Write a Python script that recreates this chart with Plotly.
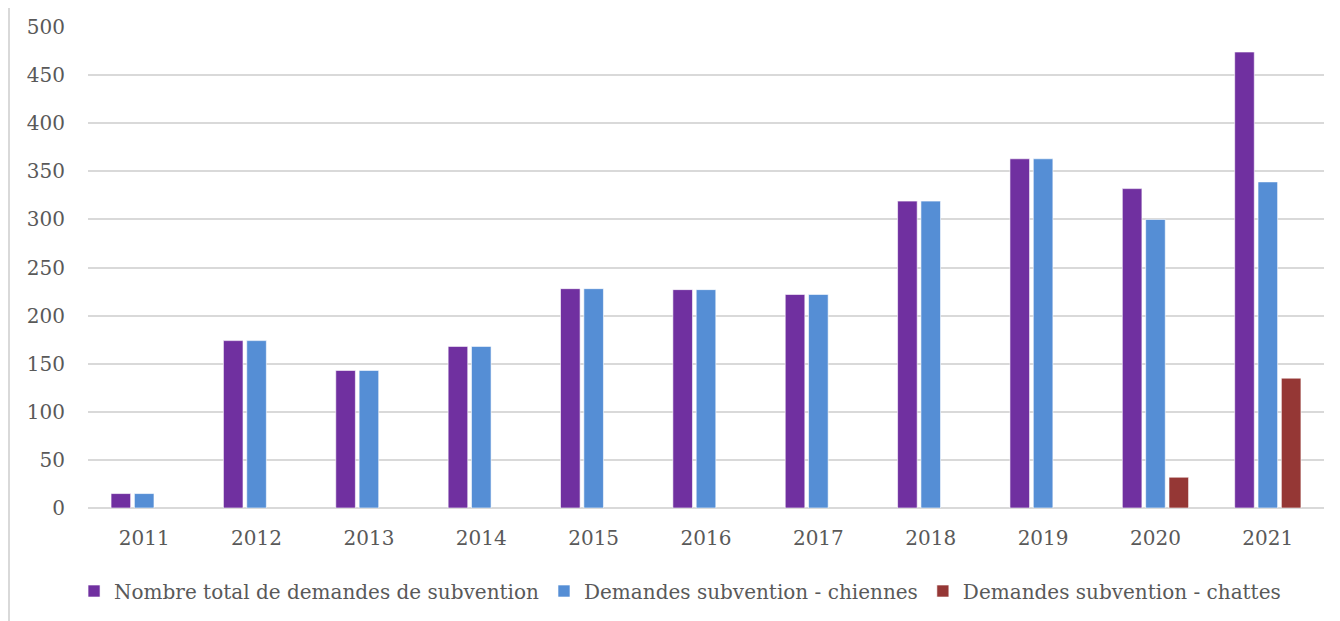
import plotly.graph_objects as go

years = ["2011", "2012", "2013", "2014", "2015", "2016", "2017", "2018", "2019", "2020", "2021"]
total = [15, 174, 143, 168, 228, 227, 222, 319, 363, 332, 474]
chiennes = [15, 174, 143, 168, 228, 227, 222, 319, 363, 300, 339]
chattes = [None, None, None, None, None, None, None, None, None, 32, 135]

series = [
    ("Nombre total de demandes de subvention", total, "#7030a0"),
    ("Demandes subvention - chiennes", chiennes, "#558ed5"),
    ("Demandes subvention - chattes", chattes, "#953735"),
]

font_family = "DejaVu Serif"
grey = "#595959"

fig = go.Figure()
for name, values, color in series:
    fig.add_trace(
        go.Bar(
            name=name,
            x=years,
            y=values,
            marker=dict(color=color, line=dict(color="rgba(255,255,255,0.6)", width=1)),
        )
    )

# page body has an 8px margin, so the figure is sized to the remaining window
fig.update_layout(
    width=1332,
    height=613,
    paper_bgcolor="white",
    plot_bgcolor="white",
    barmode="group",
    bargap=0.377,
    bargroupgap=0.16,
    margin=dict(l=80, r=16, t=19, b=113, autoexpand=False),
    font=dict(family=font_family, size=20, color=grey),
    legend=dict(
        orientation="h",
        x=0.479,
        xanchor="center",
        y=-0.1726,
        yanchor="middle",
        font=dict(family=font_family, size=20, color=grey),
        itemwidth=30,
        tracegroupgap=0,
        traceorder="normal",
    ),
    shapes=[
        dict(
            type="line",
            xref="paper",
            yref="paper",
            x0=-0.0639,
            x1=-0.0639,
            y0=-0.3,
            y1=1.06,
            line=dict(color="#d9d9d9", width=2),
        )
    ],
)
fig.update_xaxes(
    showgrid=False,
    showline=False,
    ticks="",
    automargin=False,
    ticklabelstandoff=16,
    tickfont=dict(size=20, color=grey),
)
fig.update_yaxes(
    range=[0, 500],
    dtick=50,
    showgrid=True,
    gridcolor="#d9d9d9",
    gridwidth=1.5,
    zeroline=True,
    zerolinecolor="#d9d9d9",
    zerolinewidth=2,
    ticks="",
    automargin=False,
    ticklabelstandoff=22,
    tickfont=dict(size=20, color=grey),
)

fig.write_html("out.html")
